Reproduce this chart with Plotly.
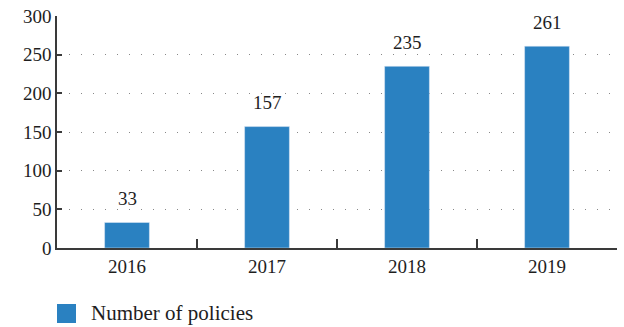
import plotly.graph_objects as go

years = ["2016", "2017", "2018", "2019"]
policies = [33, 157, 235, 261]
series_name = "Number of policies"
y_ticks = [0, 50, 100, 150, 200, 250, 300]

BLUE = "#2a81c1"
AXIS = "#3a3a3a"
FONT = "Liberation Serif"
TXT = "#1e1e1e"

fig = go.Figure()
fig.add_trace(go.Bar(x=years, y=policies, marker_color=BLUE, width=0.32,
                     name=series_name, showlegend=False))

for i, v in enumerate(policies):
    fig.add_annotation(x=i, y=v, text=str(v), showarrow=False, yshift=24,
                       yanchor="middle", font=dict(family=FONT, size=19, color=TXT))

# legend (drawn manually to match the large square swatch)
fig.add_shape(type="rect", xref="paper", yref="paper",
              x0=0, x1=19/560, y0=-(304-248)/232, y1=-(323-248)/232,
              fillcolor=BLUE, line_width=0)
fig.add_annotation(xref="paper", yref="paper", x=(89-57)/560, y=-(313-248)/232,
                   xanchor="left", yanchor="middle", showarrow=False,
                   text=series_name, font=dict(family=FONT, size=21, color=TXT))

fig.update_layout(
    width=624, height=327,
    margin=dict(l=57, r=7, t=16, b=79),
    plot_bgcolor="white", paper_bgcolor="white",
    font=dict(family=FONT, size=18, color=TXT),
)
fig.update_xaxes(type="category", range=[-0.5, len(years) - 0.5],
                 showline=True, linecolor=AXIS, linewidth=1.5,
                 ticks="inside", tickson="boundaries", ticklen=9, tickwidth=1.5,
                 tickcolor=AXIS, showgrid=False, tickangle=0,
                 tickfont=dict(family=FONT, size=19, color=TXT))
fig.update_yaxes(range=[0, 300], tickvals=y_ticks, showline=True, linecolor=AXIS,
                 linewidth=1.5, ticks="inside", ticklen=5, tickwidth=1.5, tickcolor=AXIS,
                 showgrid=True, gridcolor="#888", gridwidth=1, griddash="1px,11px",
                 zeroline=False, tickfont=dict(family=FONT, size=19, color=TXT),
                 ticksuffix="  ")

fig.write_html("out.html")
